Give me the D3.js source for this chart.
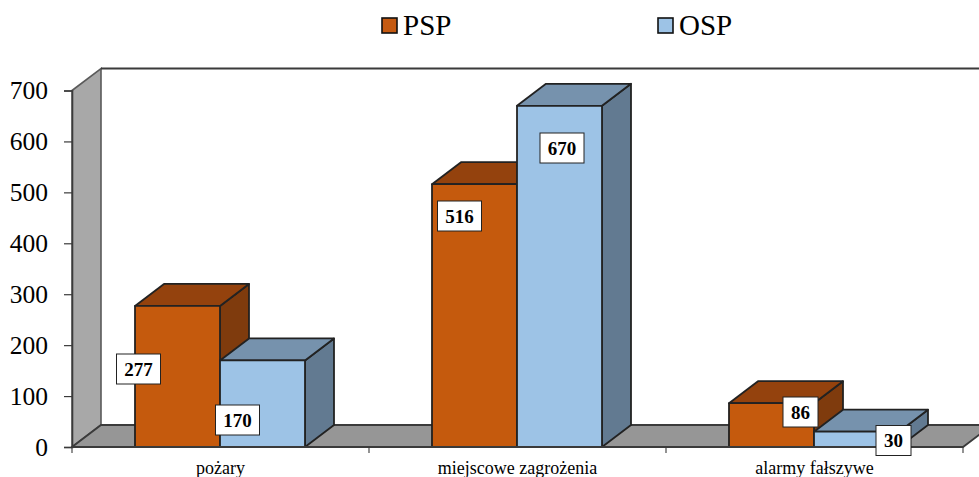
<!DOCTYPE html>
<html><head><meta charset="utf-8">
<script src="https://cdn.jsdelivr.net/npm/d3@7/dist/d3.min.js"></script>
<style>html,body{margin:0;padding:0;background:#fff}svg{display:block}text{font-family:"Liberation Serif",serif;fill:#000}</style>
</head><body><svg id="c" width="979" height="477"></svg>
<script>
const categories = ["pożary", "miejscowe zagrożenia", "alarmy fałszywe"];
const seriesNames = ["PSP", "OSP"];
const psp = [277, 516, 86];
const osp = [170, 670, 30];
const yTicks = [0, 100, 200, 300, 400, 500, 600, 700];

const svg = d3.select("#c");
const W = 979, H = 477;
const y = d3.scaleLinear().domain([0, 700]).range([447, 90.5]);
const x0 = d3.scaleBand().domain(categories).range([72, 963]);
const x1 = d3.scaleBand().domain(seriesNames).range([63, 233]);
const dx = 29, dy = -22;
const line = "#3a3a3a";
const fills = {
  PSP: {front: "#c55a11", top: "#94430d", side: "#7f3a0b"},
  OSP: {front: "#9dc3e6", top: "#7692ad", side: "#627a91"}
};
const defs = svg.append("defs");
const blur = defs.append("filter").attr("id", "soft").attr("x", "-5%").attr("y", "-5%").attr("width", "110%").attr("height", "110%");
blur.append("feGaussianBlur").attr("stdDeviation", 0.55);

const pts = a => a.map(p => p.join(",")).join(" ");
const plot = svg.append("g").attr("filter", "url(#soft)");
const L = x0.range()[0], R = x0.range()[1];

// side wall, back wall top edge, floor
plot.append("polygon").attr("points", pts([[L, y(700)], [L + dx, y(700) + dy], [L + dx, y(0) + dy], [L, y(0)]]))
  .attr("fill", "#a8a8a8").attr("stroke", "#5a5a5a").attr("stroke-width", 1.6);
plot.append("line").attr("x1", L + dx).attr("x2", W + 5).attr("y1", y(700) + dy).attr("y2", y(700) + dy)
  .attr("stroke", line).attr("stroke-width", 2.2);
plot.append("polygon").attr("points", pts([[L, y(0)], [L + dx, y(0) + dy], [R + dx, y(0) + dy], [R, y(0)]]))
  .attr("fill", "#969696").attr("stroke", line).attr("stroke-width", 1.8);

// bars
const bars = [];
categories.forEach((c, i) => {
  bars.push({c, s: "PSP", v: psp[i], i});
  bars.push({c, s: "OSP", v: osp[i], i});
});
const drawBar = d => {
  const g = plot.append("g").attr("stroke", "#222").attr("stroke-width", 1.8).attr("stroke-linejoin", "round");
  const a = x0(d.c) + x1(d.s), b = a + x1.bandwidth(), t = y(d.v), z = y(0), f = fills[d.s];
  g.append("polygon").attr("points", pts([[b, t], [b + dx, t + dy], [b + dx, z + dy], [b, z]])).attr("fill", f.side);
  g.append("polygon").attr("points", pts([[a, t], [a + dx, t + dy], [b + dx, t + dy], [b, t]])).attr("fill", f.top);
  g.append("rect").attr("x", a).attr("y", t).attr("width", b - a).attr("height", z - t).attr("fill", f.front);
};
bars.forEach(drawBar);

// axes
const yAxis = d3.axisLeft(y).tickValues(yTicks).tickSize(8).tickPadding(16);
const gy = svg.append("g").attr("transform", `translate(${L},0)`).call(yAxis);
gy.select(".domain").attr("stroke", line).attr("stroke-width", 1.6);
gy.selectAll(".tick line").attr("stroke", line).attr("stroke-width", 1.2);
gy.selectAll("text").attr("font-size", 25.5).style("font-family", '"Liberation Serif",serif');

const gx = svg.append("g").attr("transform", `translate(0,${y(0)})`);
gx.append("line").attr("x1", L).attr("x2", R).attr("stroke", line).attr("stroke-width", 1.8);
gx.selectAll("line.t").data(d3.range(categories.length + 1)).join("line").attr("class", "t")
  .attr("x1", i => L + i * x0.bandwidth()).attr("x2", i => L + i * x0.bandwidth())
  .attr("y1", 0).attr("y2", 6).attr("stroke", line).attr("stroke-width", 1.1);
gx.selectAll("text").data(categories).join("text")
  .attr("x", c => x0(c) + x0.bandwidth() / 2).attr("y", 27).attr("text-anchor", "middle")
  .attr("font-size", 18).text(c => c);

// data labels
const labelShift = {
  "pożary|PSP": [-39, 369], "pożary|OSP": [-25, 420],
  "miejscowe zagrożenia|PSP": [-15, 216], "miejscowe zagrożenia|OSP": [2.5, 148],
  "alarmy fałszywe|PSP": [29, 412], "alarmy fałszywe|OSP": [37, 440.5]
};
const boxW = 44, boxH = 30;
bars.forEach(d => {
  const [off, cy] = labelShift[d.c + "|" + d.s];
  const cx = x0(d.c) + x1(d.s) + x1.bandwidth() / 2 + off;
  const w = d.v < 100 ? 35 : boxW;
  svg.append("rect").attr("x", cx - w / 2).attr("y", cy - boxH / 2).attr("width", w).attr("height", boxH)
    .attr("fill", "#fff").attr("stroke", "#222").attr("stroke-width", 1);
  svg.append("text").attr("x", cx).attr("y", cy + 6.5).attr("text-anchor", "middle")
    .attr("font-size", 19).attr("font-weight", "bold").text(d.v);
});

// legend
const legendX = {PSP: 382, OSP: 658};
seriesNames.forEach(s => {
  svg.append("rect").attr("x", legendX[s]).attr("y", 18).attr("width", 15).attr("height", 15)
    .attr("fill", fills[s].front).attr("stroke", "#111").attr("stroke-width", 1.6);
  svg.append("text").attr("x", legendX[s] + 21).attr("y", 35).attr("font-size", 29).text(s);
});
</script></body></html>
